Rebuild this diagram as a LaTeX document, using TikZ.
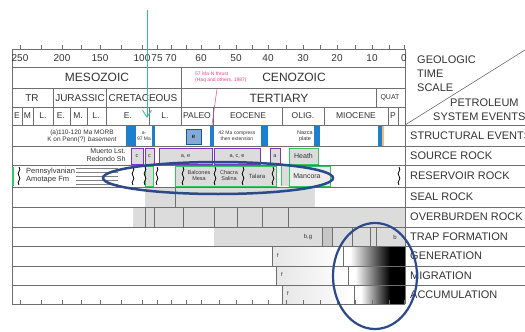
\documentclass[tikz,border=0pt]{standalone}
\usepackage{fontspec}
\setmainfont{Liberation Sans}
\usetikzlibrary{positioning, arrows.meta, calc}
\definecolor{psblue}{HTML}{1E7FCF}
\definecolor{pslightblue}{HTML}{86A9D6}
\definecolor{pspurple}{HTML}{7A35C0}
\definecolor{psgreen}{HTML}{33C466}
\definecolor{psgrey}{HTML}{DCDCDC}
\definecolor{psnavy}{HTML}{2C4A8A}
\definecolor{psteal}{HTML}{35C28F}
\definecolor{pspink}{HTML}{E0457F}
\definecolor{psline}{HTML}{6E6E6E}
\definecolor{pstext}{HTML}{333333}

\begin{document}
\begin{tikzpicture}[x=1pt, y=-1pt,
    grid/.style={draw=psline, line width=0.6pt},
    rowlabel/.style={anchor=west, inner sep=0pt, text=pstext, font=\fontsize{11}{11}\selectfont},
    eralabel/.style={inner sep=0pt, text=pstext, font=\fontsize{12}{12}\selectfont},
    perlabel/.style={inner sep=0pt, text=pstext, font=\fontsize{10}{10}\selectfont},
    epochlabel/.style={inner sep=0pt, text=pstext, font=\fontsize{8.5}{8.5}\selectfont},
    agelabel/.style={inner sep=0pt, text=pstext, font=\fontsize{10}{10}\selectfont},
    smalltext/.style={inner sep=0pt, text=pstext, align=center, font=\fontsize{5.5}{6}\selectfont},
    bluebar/.style={fill=psblue},
    purplebox/.style={draw=pspurple, line width=1pt, fill=psgrey},
    greenbox/.style={draw=psgreen, line width=1pt, fill=psgrey},
    pics/wavyline/.style={code={
        \draw[line width=0.8pt] (0,-9) .. controls (3,-6) and (-3,-3) .. (0,0)
            .. controls (3,3) and (-3,6) .. (0,9);}},
  ]
  \useasboundingbox (0,0) rectangle (525,332);
  \clip (0,0) rectangle (525,332);

  % grey bands
  \fill[psgrey] (145,187) rectangle (315,207);
  \fill[psgrey] (133,207) rectangle (405,227);
  \fill[psgrey] (214,227) rectangle (405,246);
  \fill[gray!45] (322,227) rectangle (332,246);
  \draw[grid] (175,187) -- (175,207);
  \foreach \x in {145,154,183,214,237,262,288}
    \draw[grid] (\x,207) -- (\x,227);
  \foreach \x in {322,332,352,370,376}
    \draw[grid] (\x,227) -- (\x,246);
  \node[smalltext, font=\fontsize{6}{6}\selectfont] (lbg) at (308,237) {b,g};
  \node[smalltext, font=\fontsize{6}{6}\selectfont] (lb) at (395,237) {b};

  % generation, migration, accumulation
  \foreach \y/\a/\b in {247/272/343, 266/276/348, 285/282/354} {
    \shade[left color=psgrey!70, right color=white] (\a,\y) rectangle (\b,{\y+19});
    \shade[left color=white, right color=black] ({\b+7},\y) rectangle (390,{\y+19});
    \fill[black] (390,\y) rectangle (405,{\y+19});
    \draw[grid] (\a,\y) -- (\a,{\y+19});
    \draw[grid] (\b,\y) -- (\b,{\y+19});
    \node[smalltext] at ({\a+6},{\y+9}) {f};
  }

  % frame and rows
  \draw[grid] (12,49) -- (405,49);
  \foreach \y in {67,88,107}
    \draw[grid] (12,\y) -- (405,\y);
  \foreach \y in {125,146,165,187,207,227,246,266,285}
    \draw[grid] (12,\y) -- (525,\y);
  \draw[grid] (12,304) -- (405,304);
  \draw[grid] (12,49) -- (12,304);
  \draw[grid] (405,49) -- (405,304);
  \draw[grid] (405,125) -- (525,50);
  \foreach \x in {20,41,62,81,100,121,142,157,171,186,201,219,236,252,268,286,303,320,337,355,372,389,404} {
    \draw[grid] (\x,49) -- (\x,45);
    \draw[grid] (\x,304) -- (\x,300);
  }
  \draw[grid] (181,67) -- (181,125);
  \foreach \x in {53,106}
    \draw[grid] (\x,88) -- (\x,125);
  \draw[grid] (376,88) -- (376,107);
  \foreach \x in {22,33,70,87,149,213,282,324,388,398}
    \draw[grid] (\x,107) -- (\x,125);

  % time scale
  \foreach \x/\a in {20/250, 62/200, 100/150, 142/100, 157/75, 171/70, 201/60,
                     236/50, 268/40, 303/30, 337/20, 372/10, 404/0}
    \node[agelabel] (age\a) at (\x,58) {\a};
  \node[eralabel] (mesozoic) at (97,77) {MESOZOIC};
  \node[eralabel] (cenozoic) at (294,77) {CENOZOIC};
  \node[perlabel] (triassic) at (32,98) {TR};
  \node[perlabel] (jurassic) at (80,98) {JURASSIC};
  \node[perlabel] (cretaceous) at (143,98) {CRETACEOUS};
  \node[eralabel] (tertiary) at (279,98) {TERTIARY};
  \node[epochlabel, font=\fontsize{7}{7}\selectfont] (quat) at (390,98) {QUAT};
  \foreach \x/\e [count=\i] in {17/E, 27.5/M, 43/L., 61/E., 78/M., 96/L., 128/E., 165/L.,
                                197/PALEO, 248/EOCENE, 303/OLIG., 356/MIOCENE, 393/P}
    \node[epochlabel] (epoch\i) at (\x,116) {\e};
  \node[anchor=west, inner sep=0pt, text=pspink, align=left, font=\fontsize{5}{6}\selectfont]
    (thrustnote) at (195,77) {57 Ma-N thrust\\(Haq and others, 1987)};
  \coordinate (thrusttop) at (217,89);
  \coordinate (thrustbot) at (212,125);
  \draw[pspink, line width=0.5pt] (thrusttop) -- (thrustbot);

  % structural events
  \node[smalltext, font=\fontsize{6.5}{7}\selectfont] (morb) at (82,136)
    {(a)110-120 Ma MORB\\K on Penn(?) \textit{basement}};
  \fill[psblue] (126,126) rectangle (136,146);
  \node[smalltext, font=\fontsize{5}{6}\selectfont] (evta) at (144,136) {a-\\97 Ma};
  \fill[psblue] (152,126) rectangle (155,146);
  \node[draw=psblue!70!black, fill=pslightblue, minimum width=15pt, minimum height=15pt,
        inner sep=0pt, font=\fontsize{6}{6}\selectfont] (evte) at (193.5,136.5) {e};
  \fill[psblue] (210,126) rectangle (214,146);
  \node[smalltext, font=\fontsize{5}{6}\selectfont] (compress) at (237,136)
    {42 Ma compress\\then extension};
  \fill[psblue] (261,126) rectangle (268,146);
  \node[smalltext] (nazca) at (305,136) {Nazca\\plate};
  \fill[psblue] (314,126) rectangle (320,146);
  \fill[psblue] (378,126) rectangle (382,146);
  \fill[orange!55] (382,126) rectangle (384,146);

  % source rock
  \node[smalltext, align=right, font=\fontsize{7}{7.5}\selectfont] (muerto) at (106,155)
    {Muerto Lst.\\Redondo Sh};
  \draw[purplebox] (131,148) rectangle (143,164);
  \node[smalltext] (srcc1) at (137,156) {c};
  \draw[purplebox] (145,148) rectangle (154,164);
  \node[smalltext] (srcc2) at (149.5,156) {c};
  \draw[purplebox] (159,148) rectangle (212,164);
  \node[smalltext] (srcae) at (185.5,156) {a, e};
  \draw[purplebox] (214,148) rectangle (260,164);
  \node[smalltext] (srcace) at (237,156) {a, c, e};
  \draw[purplebox] (270,148) rectangle (280,164);
  \node[smalltext] (srca) at (275,156) {a};
  \draw[greenbox] (289,148) rectangle (318,164);
  \node[smalltext, font=\fontsize{7}{7}\selectfont] (heath) at (303.5,156) {Heath};

  % reservoir rock
  \draw[psgreen, line width=1.2pt] (13,167) -- (13,186);
  \pic at (19,176) {wavyline};
  \node[smalltext, align=left, anchor=west, font=\fontsize{7.5}{8}\selectfont] (amotape)
    at (26,176) {Pennsylvanian\\Amotape Fm};
  \foreach \y in {168.5,172.5,176.5,180.5,184.5}
    \draw[gray, line width=0.5pt] (76,\y) -- (118,\y);
  \draw[greenbox] (145,166) rectangle (153,186);
  \foreach \x in {133,145,157}
    \pic at (\x,176) {wavyline};
  \draw[greenbox] (175,166) rectangle (276,186);
  \foreach \x in {183,215,243,273}
    \pic at (\x,176) {wavyline};
  \node[smalltext] (balcones) at (199,176) {Balcones\\Mesa};
  \node[smalltext] (chacra) at (229,176) {Chacra\\Salina};
  \node[smalltext, font=\fontsize{6}{6}\selectfont] (talara) at (257,176) {Talara};
  \fill[psgrey] (281,166) rectangle (289,186);
  \draw[psgreen, line width=1pt] (281,166) -- (281,186);
  \draw[greenbox, fill=psgrey!50] (289,166) rectangle (330,186);
  \node[smalltext, font=\fontsize{7}{7}\selectfont] (mancora) at (307,176) {Mancora};
  \pic at (399,176) {wavyline};

  % row labels
  \node[rowlabel] (geologic) at (417,60) {GEOLOGIC};
  \node[rowlabel] (time) at (417,74) {TIME};
  \node[rowlabel] (scale) at (417,88) {SCALE};
  \node[rowlabel] (petroleum) at (450,103) {PETROLEUM};
  \node[rowlabel] (sysevents) at (433,117) {SYSTEM EVENTS};
  \foreach \y/\t [count=\i] in {136/STRUCTURAL EVENTS, 156/SOURCE ROCK, 176/RESERVOIR ROCK,
                                197/SEAL ROCK, 217/OVERBURDEN ROCK, 237/TRAP FORMATION,
                                256/GENERATION, 276/MIGRATION, 295/ACCUMULATION}
    \node[rowlabel] (row\i) at (410,\y) {\t};

  % highlights
  \draw[psnavy, line width=2.5pt] (218,178) ellipse [x radius=115, y radius=16];
  \draw[psnavy, line width=2.2pt] (375,276) ellipse [x radius=42, y radius=53];
  \coordinate (arrtop) at (147,10);
  \coordinate (arrtip) at (147,118);
  \draw[psteal, line width=0.9pt, -{Straight Barb[length=7pt, width=9pt]}] (arrtop) -- (arrtip);
\end{tikzpicture}
\end{document}
